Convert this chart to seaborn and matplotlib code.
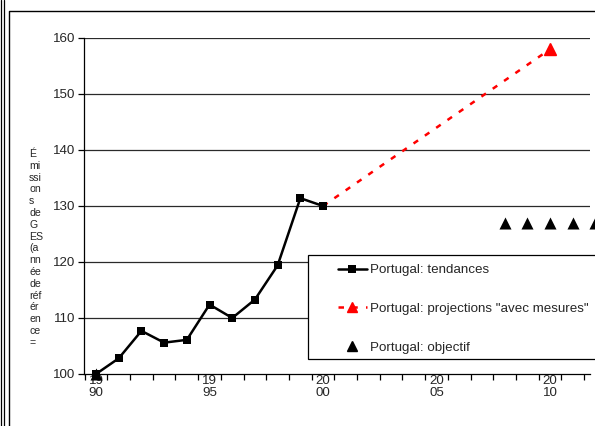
import matplotlib
matplotlib.use("Agg")
import matplotlib.pyplot as plt
from matplotlib.lines import Line2D
from matplotlib.patches import Rectangle
import seaborn as sns
import pandas as pd

# ---- data ----
trend_years = [1990, 1991, 1992, 1993, 1994, 1995, 1996, 1997, 1998, 1999, 2000]
trend_values = [100.0, 102.8, 107.7, 105.6, 106.1, 112.4, 110.0, 113.3, 119.4, 131.4, 130.0]
proj_years = [2000, 2010]
proj_values = [130.0, 158.0]
target_years = [1990, 2008, 2009, 2010, 2011, 2012]
target_values = [100.0, 127.0, 127.0, 127.0, 127.0, 127.0]
label_years = [1990, 1995, 2000, 2005, 2010]
tick_labels = ["19\n90", "19\n95", "20\n00", "20\n05", "20\n10"]
y_ticks = [100, 110, 120, 130, 140, 150, 160]
ylabel_lines = ["É", "mi", "ssi", "on", "s", "de", "G", "ES", "(a", "nn", "ée",
                "de", "réf", "ér", "en", "ce", "="]
legend_labels = ["Portugal: tendances", 'Portugal: projections "avec mesures"',
                 "Portugal: objectif"]

sns.set_theme(style="white")
plt.rcParams["font.family"] = ["Liberation Sans", "DejaVu Sans"]

W, H = 595, 426
fig = plt.figure(figsize=(W / 100, H / 100), dpi=100)
fig.patch.set_facecolor("white")

def fx(px):
    return px / W

def fy(py):
    return 1 - py / H

FS = 9.6

ax = fig.add_axes([fx(84), fy(374), fx(590) - fx(84), fy(38) - fy(374)])
ax.set_facecolor("white")

df_trend = pd.DataFrame({"year": trend_years, "value": trend_values})
df_proj = pd.DataFrame({"year": proj_years, "value": proj_values})
df_target = pd.DataFrame({"year": target_years, "value": target_values})

# gridlines
for yv in y_ticks[1:]:
    ax.axhline(yv, color="#2a2a2a", lw=0.9, zorder=1)

sns.lineplot(data=df_proj, x="year", y="value", ax=ax, color="red", lw=1.8,
             dashes=False, linestyle=(0, (2.2, 3.3)), zorder=3, clip_on=False)
ax.plot(proj_years[-1:], proj_values[-1:], marker="^", color="red", ms=9,
        ls="none", zorder=4, clip_on=False)
sns.lineplot(data=df_trend, x="year", y="value", ax=ax, color="black", lw=1.8,
             marker="s", markersize=5.5, markeredgewidth=0, zorder=5, clip_on=False)
sns.scatterplot(data=df_target, x="year", y="value", ax=ax, color="black",
                marker="^", s=75, linewidth=0, zorder=6, clip_on=False)

ax.set_xlim(1989.47, 2011.76)
ax.set_ylim(100, 160)
ax.set_yticks(y_ticks)
ax.set_yticklabels([str(v) for v in y_ticks], fontsize=FS)
ax.set_xticks(label_years)
ax.set_xticklabels(tick_labels, fontsize=FS, linespacing=1.0)
ax.set_xticks([y + 0.5 for y in range(1989, 2012)], minor=True)
ax.tick_params(axis="x", which="major", length=0, pad=1)
ax.tick_params(axis="x", which="minor", length=4, width=0.9, color="black",
               direction="out", bottom=True)
ax.tick_params(axis="y", length=4, width=0.9, color="black", direction="out",
               left=True, pad=2)
ax.set_xlabel("")
ax.set_ylabel("")
for s in ["top", "right"]:
    ax.spines[s].set_visible(False)
for s in ["left", "bottom"]:
    ax.spines[s].set_color("black")
    ax.spines[s].set_linewidth(0.9)
    ax.spines[s].set_zorder(2)

# y label, broken into fragments as in the original
y0 = 154
for i, t in enumerate(ylabel_lines):
    fig.text(fx(29), fy(y0 + i * 11.8), t, fontsize=7.6, ha="left", va="center")

# legend box
fig.patches.append(Rectangle((fx(308), fy(359)), fx(640) - fx(308), fy(255) - fy(359),
                             transform=fig.transFigure, facecolor="white",
                             edgecolor="black", lw=0.9, zorder=10))
handles = [
    Line2D([], [], color="black", lw=1.8, marker="s", ms=5.5, mew=0),
    Line2D([], [], color="red", lw=1.8, ls=(0, (2.2, 3.3)), marker="^", ms=7.5),
    Line2D([], [], color="black", ls="none", marker="^", ms=7.5),
]
leg = fig.legend(handles, legend_labels, loc="upper left",
                 bbox_to_anchor=(fx(338), fy(264)), frameon=False, fontsize=FS,
                 handlelength=2.15, handletextpad=0.25, labelspacing=1.97,
                 borderaxespad=0, borderpad=0)
leg.set_zorder(11)

# outer frame
fig.add_artist(Line2D([fx(1), fx(1)], [0, 1], color="black", lw=0.9,
                      transform=fig.transFigure))
fig.add_artist(Line2D([fx(3.5), fx(3.5)], [0, 1], color="black", lw=0.9,
                      transform=fig.transFigure))
fig.add_artist(Line2D([fx(9), fx(9), fx(600)], [fy(430), fy(10.5), fy(10.5)],
                      color="black", lw=1.0, transform=fig.transFigure))

fig.savefig("out.png", dpi=100)
